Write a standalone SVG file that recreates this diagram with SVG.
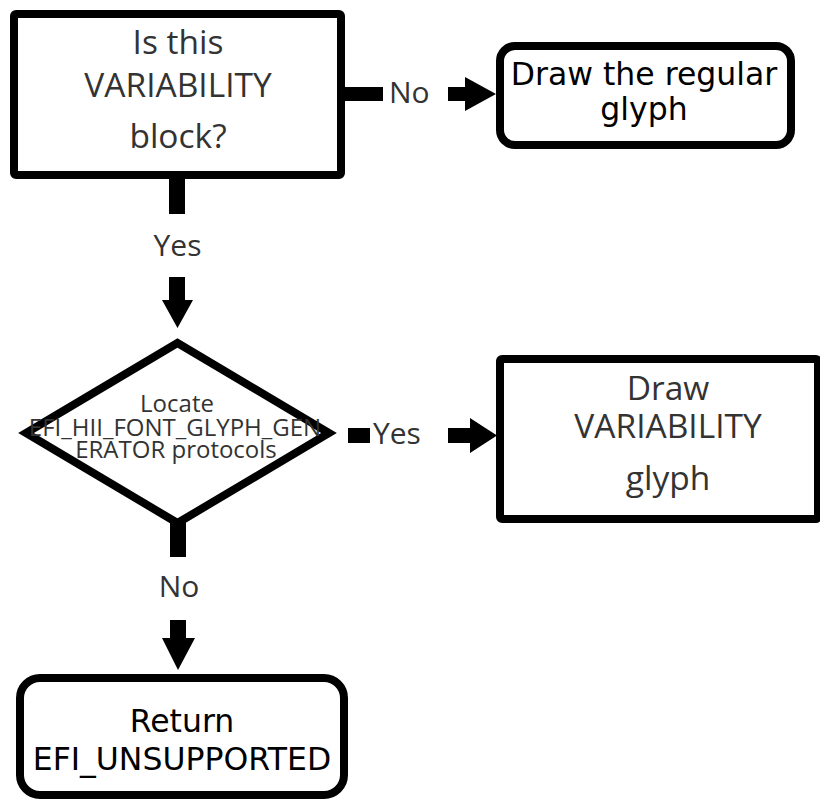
<svg xmlns="http://www.w3.org/2000/svg" width="820" height="800" viewBox="0 0 820 800">
<style>
.box{fill:#fff;stroke:#000;stroke-width:8}
.g{font-family:"Open Sans","Liberation Sans",sans-serif;fill:#333;text-anchor:middle}
.b{font-family:"DejaVu Sans","Liberation Sans",sans-serif;fill:#000;text-anchor:middle;font-size:31.5px}
.lbl{font-family:"Open Sans","Liberation Sans",sans-serif;fill:#333;font-size:30px}
.c{fill:#000}
</style>
<rect width="820" height="800" fill="#fff"/>
<g id="decision1">
<rect class="box" x="14" y="14" width="327" height="161" rx="2"/>
<text class="g" font-size="33.5" x="178" y="54">Is this</text>
<text class="g" font-size="33.5" x="178" y="97">VARIABILITY</text>
<text class="g" font-size="33.5" x="178" y="148">block?</text>
</g>
<g id="regular">
<rect class="box" x="500" y="46" width="291" height="99" rx="15"/>
<text class="b" x="644" y="85">Draw the regular</text>
<text class="b" x="644" y="120">glyph</text>
</g>
<g id="decision2">
<polygon class="box" points="177.5,343 329,433 177.5,523 26,433"/>
<text class="g" font-size="24" x="177" y="412">Locate</text>
<text class="g" font-size="24" x="175" y="436">EFI_HII_FONT_GLYPH_GEN</text>
<text class="g" font-size="24" x="176" y="458">ERATOR protocols</text>
</g>
<g id="variability">
<rect class="box" x="500" y="359" width="318" height="160" rx="2"/>
<text class="g" font-size="33.5" x="668" y="400">Draw</text>
<text class="g" font-size="33.5" x="668" y="438">VARIABILITY</text>
<text class="g" font-size="33.5" x="668" y="490">glyph</text>
</g>
<g id="unsupported">
<rect class="box" x="20" y="678" width="324" height="117" rx="20"/>
<text class="b" x="182" y="732">Return</text>
<text class="b" x="182" y="770">EFI_UNSUPPORTED</text>
</g>
<g id="connectors">
<rect class="c" x="345" y="87" width="38" height="14"/>
<text class="lbl" x="389" y="103">No</text>
<polygon class="c" points="448,87 465,87 465,77 496,94 465,111 465,101 448,101"/>
<rect class="c" x="169" y="179" width="16" height="35"/>
<text class="lbl" x="177.5" y="256" text-anchor="middle">Yes</text>
<polygon class="c" points="169,277 185,277 185,300 193,300 177.5,328 162,300 169,300"/>
<rect class="c" x="348" y="428" width="22" height="15"/>
<text class="lbl" x="373" y="444">Yes</text>
<polygon class="c" points="448,428 470,428 470,418 497,435.5 470,453 470,443 448,443"/>
<rect class="c" x="170" y="523" width="16" height="34"/>
<text class="lbl" x="179" y="597" text-anchor="middle">No</text>
<polygon class="c" points="170,620 186,620 186,638 195,638 178,670 162,638 170,638"/>
</g>
</svg>
